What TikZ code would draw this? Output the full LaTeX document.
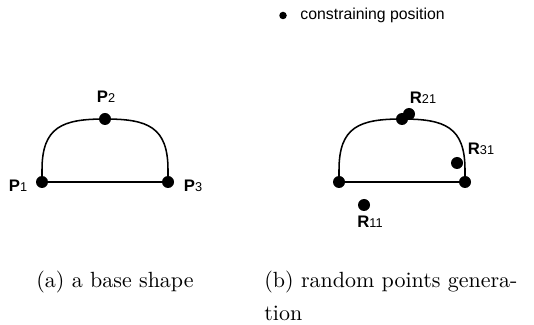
\documentclass[tikz,border=0pt]{standalone}
\usepackage{fontspec}
\newfontfamily\arialf{Liberation Sans}
\newcommand\ptlab[2]{{\arialf\fontsize{7.6}{9}\selectfont\bfseries #1}{\arialf\fontsize{5.8}{7}\selectfont #2}}
\begin{document}
\begin{tikzpicture}[x=0.455pt,y=-0.455pt,
  dot/.style={circle,fill=black,inner sep=0pt,minimum size=12*0.455pt},
  smalldot/.style={circle,fill=black,inner sep=0pt,minimum size=7.5*0.455pt},
  edge/.style={line width=0.7pt},
  lab/.style={inner sep=0pt},
  captext/.style={inner sep=0pt,anchor=base west,font=\normalsize}]
\useasboundingbox (0,0) rectangle (534,325);
% legend
\node[smalldot] (ld) at (283,15.5) {};
\node[lab,anchor=base west,font=\arialf\fontsize{7.2}{9}\selectfont] (lt) at (300,19.5) {constraining position};
% (a)
\node[dot] (p1) at (42,182) {};
\node[dot] (p3) at (168,182) {};
\node[dot] (p2) at (105,119) {};
\draw[edge] (p1.center) -- (42,170) .. controls (42,127) and (62,119) .. (p2.center)
  .. controls (148,119) and (168,127) .. (168,170) -- (p3.center);
\draw[edge] (p1.center) -- (p3.center);
\node[lab] (l1) at (18,186) {\ptlab{P}{1}};
\node[lab] (l2) at (106,97) {\ptlab{P}{2}};
\node[lab] (l3) at (193,186) {\ptlab{P}{3}};
% (b)
\node[dot] (q1) at (339,182) {};
\node[dot] (q3) at (465,182) {};
\coordinate (q2) at (402,119);
\draw[edge] (q1.center) -- (339,170) .. controls (339,127) and (359,119) .. (q2)
  .. controls (445,119) and (465,127) .. (465,170) -- (q3.center);
\draw[edge] (q1.center) -- (q3.center);
\node[dot] (r21a) at (402,119) {};
\node[dot] (r21b) at (409,114) {};
\node[dot] (r31) at (457,163) {};
\node[dot] (r11) at (364,205) {};
\node[lab] (t21) at (423,98) {\ptlab{R}{21}};
\node[lab] (t31) at (481,149) {\ptlab{R}{31}};
\node[lab] (t11) at (370,222) {\ptlab{R}{11}};
% captions
\node[captext] (ca) at (36,287) {(a) a base shape};
\node[captext,align=left] (cb) at (264,320) {(b) random points genera-\\[3pt]tion};
\end{tikzpicture}
\end{document}
